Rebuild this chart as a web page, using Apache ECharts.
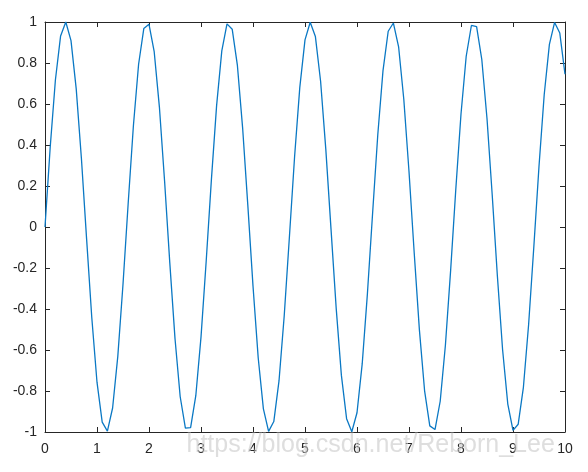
<!DOCTYPE html>
<html>
<head>
<meta charset="utf-8">
<script src="https://cdn.jsdelivr.net/npm/echarts@6/dist/echarts.min.js"></script>
<style>html,body{margin:0;padding:0;background:#fff;}#c{width:588px;height:472px;}</style>
</head>
<body>
<div id="c"></div>
<script>
var xValues = [0,0.1,0.2,0.3,0.4,0.5,0.6,0.7,0.8,0.9,1,1.1,1.2,1.3,1.4,1.5,1.6,1.7,1.8,1.9,2,2.1,2.2,2.3,2.4,2.5,2.6,2.7,2.8,2.9,3,3.1,3.2,3.3,3.4,3.5,3.6,3.7,3.8,3.9,4,4.1,4.2,4.3,4.4,4.5,4.6,4.7,4.8,4.9,5,5.1,5.2,5.3,5.4,5.5,5.6,5.7,5.8,5.9,6,6.1,6.2,6.3,6.4,6.5,6.6,6.7,6.8,6.9,7,7.1,7.2,7.3,7.4,7.5,7.6,7.7,7.8,7.9,8,8.1,8.2,8.3,8.4,8.5,8.6,8.7,8.8,8.9,9,9.1,9.2,9.3,9.4,9.5,9.6,9.7,9.8,9.9,10];
var yValues = [0,0.389,0.717,0.932,1.0,0.909,0.675,0.335,-0.058,-0.443,-0.757,-0.952,-0.996,-0.883,-0.631,-0.279,0.117,0.494,0.794,0.968,0.989,0.855,0.585,0.223,-0.175,-0.544,-0.828,-0.981,-0.979,-0.823,-0.537,-0.166,0.231,0.592,0.859,0.991,0.965,0.788,0.485,0.108,-0.288,-0.638,-0.887,-0.997,-0.949,-0.751,-0.434,-0.049,0.344,0.681,0.913,0.999,0.929,0.711,0.380,-0.009,-0.397,-0.724,-0.935,-0.999,-0.906,-0.668,-0.326,0.067,0.451,0.763,0.955,0.995,0.879,0.623,0.271,-0.126,-0.502,-0.799,-0.970,-0.988,-0.850,-0.577,-0.214,0.184,0.551,0.833,0.983,0.977,0.817,0.529,0.157,-0.240,-0.599,-0.864,-0.992,-0.962,-0.782,-0.477,-0.099,0.296,0.645,0.891,0.998,0.946,0.745];
var xTicks = [0,1,2,3,4,5,6,7,8,9,10];
var yTicks = [-1,-0.8,-0.6,-0.4,-0.2,0,0.2,0.4,0.6,0.8,1];
var watermark = 'https://blog.csdn.net/Reborn_Lee';

var axisColor = '#262626';
var fontFam = 'Liberation Sans, Arial, sans-serif';
function baseAxis(pos, showLabel) {
  return {
    type: 'value',
    position: pos,
    axisLine: {show: true, onZero: false, lineStyle: {color: axisColor, width: 1}},
    axisTick: {show: true, inside: true, length: 5, lineStyle: {color: axisColor}},
    axisLabel: {show: showLabel, color: axisColor, fontFamily: fontFam, fontSize: 14},
    splitLine: {show: false}
  };
}
var xa = baseAxis('bottom', true);
xa.min = xTicks[0]; xa.max = xTicks[xTicks.length-1]; xa.interval = 1; xa.axisLabel.margin = 10;
var xa2 = baseAxis('top', false);
xa2.min = xTicks[0]; xa2.max = xTicks[xTicks.length-1]; xa2.interval = 1;
var ya = baseAxis('left', true);
ya.min = yTicks[0]; ya.max = yTicks[yTicks.length-1]; ya.interval = 0.2; ya.axisLabel.margin = 8;
ya.axisLabel.formatter = function (v) { return String(Math.round(v * 10) / 10); };
var ya2 = baseAxis('right', false);
ya2.min = yTicks[0]; ya2.max = yTicks[yTicks.length-1]; ya2.interval = 0.2;

var chart = echarts.init(document.getElementById('c'), null, {renderer: 'canvas'});
chart.setOption({
  animation: false,
  backgroundColor: '#ffffff',
  grid: {left: 45, top: 22, right: 23, bottom: 40},
  xAxis: [xa, xa2],
  yAxis: [ya, ya2],
  series: [{
    type: 'line',
    data: xValues.map(function (x, i) { return [x, yValues[i]]; }),
    showSymbol: false,
    lineStyle: {color: '#0a78c4', width: 1.3},
    itemStyle: {color: '#0a78c4'}
  }],
  graphic: [{
    type: 'text',
    left: 186,
    top: 432,
    z: 100,
    style: {
      text: watermark,
      fill: 'rgba(190,190,190,0.5)',
      font: '25px ' + fontFam,
      stroke: 'rgba(255,255,255,0.5)',
      lineWidth: 1
    }
  }]
});
</script>
</body>
</html>
